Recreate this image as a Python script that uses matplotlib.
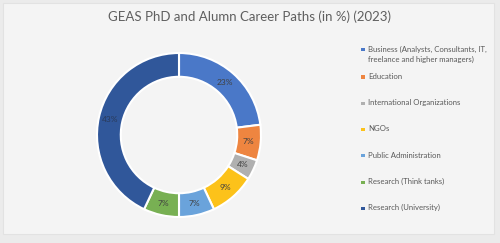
import matplotlib
matplotlib.use("Agg")
import matplotlib.pyplot as plt
from matplotlib.patches import Rectangle

plt.rcParams['font.family'] = ['Lato', 'DejaVu Sans']

# career paths of GEAS PhDs and alumni, 2023 (%)
categories = [
    "Business (Analysts, Consultants, IT,\nfreelance and higher managers)",
    "Education",
    "International Organizations",
    "NGOs",
    "Public Administration",
    "Research (Think tanks)",
    "Research (University)",
]
shares = [23, 7, 4, 9, 7, 7, 43]
colors = ["#4a78c8", "#ee8540", "#b0b0b0", "#fcc21a", "#6aa3db", "#78b053", "#30579a"]

W, H = 500, 243
fig = plt.figure(figsize=(W / 100, H / 100), dpi=100)
fig.patch.set_facecolor("#ebebeb")

# inner panel, kept behind the donut axes
fig.patches.append(Rectangle((3 / W, 9 / H), 491 / W, 231 / H, transform=fig.transFigure,
                             facecolor="#f4f4f4", edgecolor="#e2e2e2", lw=0.8, zorder=-10))

fig.text(250 / W, 1 - 17 / H, "GEAS PhD and Alumn Career Paths (in %) (2023)",
         ha="center", va="center", fontsize=9.5, color="#5f5f5f")

# donut
cx, cy, r = 179, 135, 82
ax = fig.add_axes([(cx - r) / W, (H - cy - r) / H, 2 * r / W, 2 * r / H])
ax.set_facecolor("none")
wedges, texts, autotexts = ax.pie(
    shares, colors=colors, startangle=90, counterclock=False, radius=1,
    autopct="%1.0f%%", pctdistance=0.855,
    wedgeprops=dict(width=0.29, edgecolor="white", linewidth=1.5),
    textprops=dict(fontsize=6, color="#404040"))
autotexts[-1].set_color("#2a3a5a")
ax.set_xlim(-1, 1)
ax.set_ylim(-1, 1)
ax.set_aspect("equal")
ax.axis("off")

# legend drawn by hand to follow the reference spacing
line_y = [50] + [77 + 26.3 * i for i in range(len(categories) - 1)]
for lab, col, y in zip(categories, colors, line_y):
    fig.patches.append(Rectangle((361 / W, 1 - (y + 1.5) / H), 4 / W, 3 / H,
                                 transform=fig.transFigure, facecolor=col, lw=0))
    fig.text(368 / W, 1 - (y - 4.2) / H, lab, ha="left", va="top",
             fontsize=5.6, color="#595959", linespacing=1.4)

fig.savefig("out.png", dpi=100, facecolor=fig.get_facecolor())
